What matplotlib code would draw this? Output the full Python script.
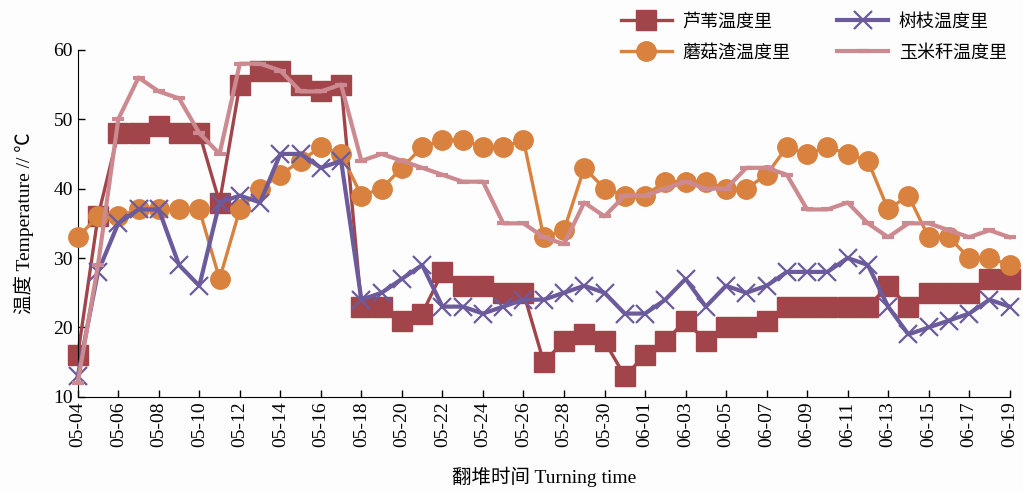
import matplotlib.pyplot as plt
import numpy as np

plt.rcParams['font.family'] = ['Liberation Serif', 'Noto Sans CJK SC']

# dates, one per day from 05-04 to 06-19
dates = ['05-%02d' % d for d in range(4, 32)] + ['06-%02d' % d for d in range(1, 20)]

# temperatures
reed = [16, 36, 48, 48, 49, 48, 48, 38, 55, 57, 57, 55, 54, 55,
        23, 23, 21, 22, 28, 26, 26, 25, 25, 15, 18, 19, 18, 13,
        16, 18, 21, 18, 20, 20, 21, 23, 23, 23, 23, 23, 26, 23,
        25, 25, 25, 27, 27]
twig = [13, 28, 35, 37, 37, 29, 26, 38, 39, 38, 45, 45, 43, 44,
        24, 25, 27, 29, 23, 23, 22, 23, 24, 24, 25, 26, 25, 22,
        22, 24, 27, 23, 26, 25, 26, 28, 28, 28, 30, 29, 23, 19,
        20, 21, 22, 24, 23]
mushroom = [33, 36, 36, 37, 37, 37, 37, 27, 37, 40, 42, 44, 46, 45,
            39, 40, 43, 46, 47, 47, 46, 46, 47, 33, 34, 43, 40, 39,
            39, 41, 41, 41, 40, 40, 42, 46, 45, 46, 45, 44, 37, 39,
            33, 33, 30, 30, 29]
corn = [12, 29, 50, 56, 54, 53, 48, 45, 58, 58, 57, 54, 54, 55,
        44, 45, 44, 43, 42, 41, 41, 35, 35, 33, 32, 38, 36, 39,
        39, 40, 41, 40, 40, 43, 43, 42, 37, 37, 38, 35, 33, 35,
        35, 34, 33, 34, 33]

x = np.arange(len(dates))

fig = plt.figure(figsize=(10.23, 4.93), dpi=100)
ax = fig.add_axes([0.076, 0.195, 0.911, 0.704])

l_reed, = ax.plot(x, reed, color='#A1454B', lw=2.4, marker='s', ms=14,
                  clip_on=False, zorder=2)
l_mush, = ax.plot(x, mushroom, color='#D9823F', lw=2.4, marker='o', ms=14,
                  clip_on=False, zorder=3)
l_twig, = ax.plot(x, twig, color='#6B5A9C', lw=3, marker='x', ms=13, mew=1.6,
                  clip_on=False, zorder=4)
l_corn, = ax.plot(x, corn, color='#CC8A90', lw=3, marker='_', ms=9, mew=3,
                  clip_on=False, zorder=5)

ax.set_xlim(0, len(dates) - 1)
ax.set_ylim(10, 60)
ax.set_yticks(range(10, 61, 10))
ax.set_xticks(x[::2])
ax.set_xticklabels(dates[::2], rotation=90)
ax.tick_params(direction='in', labelsize=14, length=5, width=1)
ax.spines['top'].set_visible(False)
ax.spines['right'].set_visible(False)
ax.set_facecolor('#FDFDFD')
fig.patch.set_facecolor('#FDFDFD')

ax.set_xlabel('翻堆时间 Turning time', fontsize=14, labelpad=14)
ax.set_ylabel('温度 Temperature // ℃', fontsize=14, labelpad=14)

fig.legend([l_reed, l_mush, l_twig, l_corn],
           ['芦苇温度里', '蘑菇渣温度里', '树枝温度里', '玉米秆温度里'],
           ncol=2, loc='upper right', bbox_to_anchor=(1.0, 1.005),
           frameon=False, fontsize=13, handlelength=2.8, handletextpad=0.6,
           columnspacing=2.6, labelspacing=0.75)

fig.savefig('out.png', dpi=100, facecolor=fig.get_facecolor())
